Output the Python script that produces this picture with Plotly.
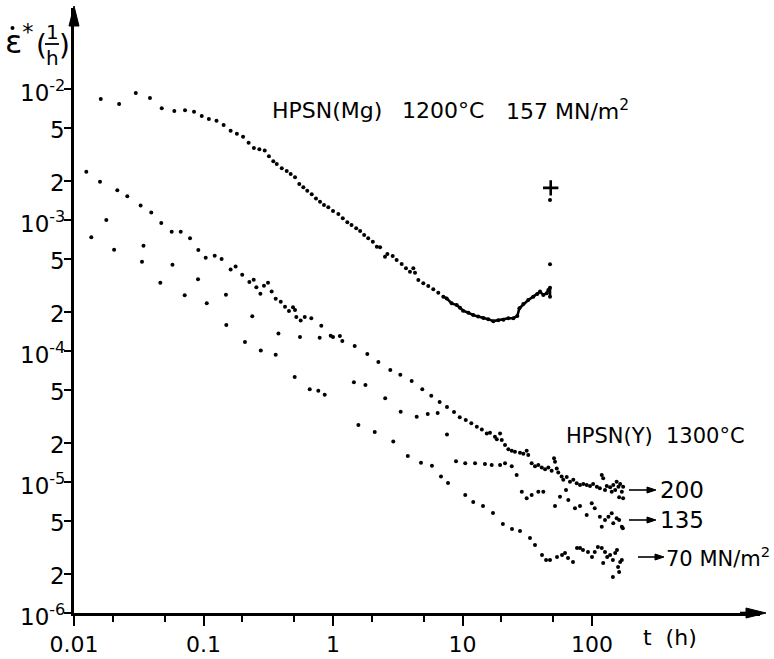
import math
import plotly.graph_objects as go

# ---------------- data ----------------
# HPSN(Mg) 1200 C, 157 MN/m2 : time t (h) and creep rate (1/h)
mg_t = [0.0161, 0.0223, 0.0300, 0.0386, 0.0476, 0.0595, 0.0720, 0.0845, 0.0969, 0.110,
        0.126, 0.143, 0.162, 0.181, 0.202, 0.223, 0.245, 0.270, 0.297, 0.320,
        0.346, 0.368, 0.402, 0.439, 0.471, 0.509, 0.549, 0.590, 0.633, 0.685,
        0.739, 0.794, 0.852, 0.920, 1.00, 1.10, 1.19, 1.29, 1.39, 1.51,
        1.62, 1.74, 1.87, 2.03, 2.18, 2.31, 2.52, 2.63, 2.89, 3.10,
        3.39, 3.66, 3.93, 4.17, 4.30, 4.56, 4.98, 5.44, 5.95, 6.50,
        7.11, 7.55, 8.25, 9.02, 9.57, 10.1, 11.1, 12.1, 13.2, 14.5,
        15.8, 17.3, 18.9, 20.7, 22.6, 24.7, 26.5, 27.5, 29.5, 32.2,
        35.2, 37.8, 39.7, 42.1, 44.7, 46.0, 47.4, 47.4]
mg_rate = [8.39e-3, 7.68e-3, 9.32e-3, 8.54e-3, 7.12e-3, 6.79e-3, 6.88e-3, 6.71e-3, 6.22e-3, 5.90e-3,
           5.73e-3, 5.31e-3, 4.80e-3, 4.56e-3, 4.32e-3, 3.89e-3, 3.54e-3, 3.47e-3, 3.40e-3, 3.06e-3,
           2.81e-3, 2.68e-3, 2.48e-3, 2.37e-3, 2.24e-3, 2.12e-3, 1.88e-3, 1.78e-3, 1.67e-3, 1.57e-3,
           1.46e-3, 1.38e-3, 1.30e-3, 1.25e-3, 1.17e-3, 1.11e-3, 1.03e-3, 9.60e-4, 9.16e-4, 8.64e-4,
           8.24e-4, 7.68e-4, 7.25e-4, 6.83e-4, 6.25e-4, 6.19e-4, 5.25e-4, 5.50e-4, 5.31e-4, 4.95e-4,
           4.61e-4, 4.28e-4, 4.03e-4, 4.28e-4, 3.96e-4, 3.48e-4, 3.29e-4, 3.13e-4, 2.96e-4, 2.79e-4,
           2.60e-4, 2.52e-4, 2.31e-4, 2.24e-4, 2.14e-4, 2.03e-4, 1.96e-4, 1.88e-4, 1.83e-4, 1.79e-4,
           1.75e-4, 1.69e-4, 1.72e-4, 1.73e-4, 1.78e-4, 1.78e-4, 1.85e-4, 2.12e-4, 2.28e-4, 2.45e-4,
           2.60e-4, 2.72e-4, 2.84e-4, 2.68e-4, 2.76e-4, 2.92e-4, 3.04e-4, 2.60e-4]
mg_tail_t = [47.4, 47.4]
mg_tail_rate = [4.59e-4, 1.42e-3]
mg_rupture_t = [48.0]
mg_rupture_rate = [1.76e-3]

# HPSN(Y) 1300 C, 200 MN/m2
y200_t = [0.01245, 0.01588, 0.0216, 0.0258, 0.0327, 0.0395, 0.0472, 0.0568, 0.0667, 0.0787,
          0.0912, 0.104, 0.122, 0.138, 0.162, 0.177, 0.199, 0.226, 0.244, 0.256,
          0.275, 0.293, 0.315, 0.336, 0.361, 0.395, 0.426, 0.457, 0.491, 0.509,
          0.521, 0.563, 0.605, 0.680, 0.812, 0.960, 1.00, 1.13, 1.18, 1.47,
          1.84, 2.24, 2.77, 3.31, 4.05, 4.89, 5.74, 6.66, 7.59, 8.60,
          9.52, 10.6, 11.7, 12.9, 14.1, 15.4, 16.3, 17.8, 18.4, 19.5,
          20.1, 21.3, 22.6, 24.0, 25.4, 27.8, 29.5, 31.3, 32.2, 34.2,
          36.3, 38.5, 40.9, 43.4, 46.0, 48.8, 50.9, 51.8, 53.4, 54.9,
          58.3, 60.0, 63.8, 67.6, 71.7, 76.2, 80.8, 85.7, 91.0, 96.5,
          102, 109, 115, 119, 122, 126, 130, 138, 142, 146,
          151, 155, 160, 165, 170, 174, 174, 162]
y200_rate = [2.34e-3, 1.96e-3, 1.69e-3, 1.52e-3, 1.29e-3, 1.14e-3, 9.49e-4, 8.14e-4, 8.14e-4, 7.25e-4,
             5.90e-4, 5.16e-4, 5.34e-4, 5.04e-4, 4.19e-4, 4.42e-4, 3.82e-4, 3.36e-4, 3.50e-4, 3.06e-4,
             2.74e-4, 3.15e-4, 3.32e-4, 2.85e-4, 2.51e-4, 2.38e-4, 2.18e-4, 2.02e-4, 2.16e-4, 2.06e-4,
             1.82e-4, 1.71e-4, 1.82e-4, 1.78e-4, 1.56e-4, 1.31e-4, 1.28e-4, 1.30e-4, 1.19e-4, 1.09e-4,
             9.48e-5, 8.24e-5, 7.16e-5, 6.59e-5, 5.90e-5, 5.10e-5, 4.56e-5, 4.08e-5, 3.73e-5, 3.42e-5,
             3.12e-5, 2.97e-5, 2.81e-5, 2.64e-5, 2.52e-5, 2.35e-5, 2.38e-5, 2.22e-5, 2.12e-5, 2.35e-5,
             2.09e-5, 1.92e-5, 1.78e-5, 1.73e-5, 1.70e-5, 1.67e-5, 1.64e-5, 1.73e-5, 1.61e-5, 1.39e-5,
             1.32e-5, 1.35e-5, 1.29e-5, 1.25e-5, 1.29e-5, 1.22e-5, 1.52e-5, 1.43e-5, 1.27e-5, 1.18e-5,
             1.10e-5, 1.04e-5, 1.09e-5, 1.005e-5, 1.04e-5, 9.77e-6, 9.48e-6, 9.65e-6, 9.48e-6, 9.32e-6,
             9.65e-6, 9.20e-6, 8.95e-6, 1.13e-5, 1.07e-5, 8.69e-6, 9.32e-6, 9.11e-6, 8.43e-6, 9.48e-6,
             8.69e-6, 1.005e-5, 9.20e-6, 9.65e-6, 8.43e-6, 9.20e-6, 7.50e-6, 7.64e-6]

# HPSN(Y) 1300 C, 135 MN/m2
y135_t = [0.01776, 0.0344, 0.0576, 0.0907, 0.149, 0.238, 0.379, 0.556, 0.789, 1.45,
          1.78, 2.53, 3.33, 4.43, 5.39, 6.43, 7.59, 8.91, 10.5, 12.5,
          14.9, 16.8, 19.5, 21.3, 24.0, 26.2, 28.7, 31.3, 34.2, 38.5,
          42.1, 51.8, 56.6, 63.0, 65.6, 73.9, 80.8, 91.0, 99.5, 105,
          115, 119, 126, 134, 142, 146, 155, 162, 170, 173]
y135_rate = [1.00e-3, 6.36e-4, 4.56e-4, 3.53e-4, 2.69e-4, 1.84e-4, 1.36e-4, 1.28e-4, 1.26e-4, 5.77e-5,
             5.50e-5, 4.35e-5, 3.44e-5, 3.15e-5, 3.30e-5, 3.36e-5, 2.30e-5, 1.44e-5, 1.39e-5, 1.39e-5,
             1.37e-5, 1.35e-5, 1.35e-5, 1.39e-5, 1.32e-5, 1.13e-5, 8.43e-6, 7.50e-6, 7.95e-6, 8.43e-6,
             8.43e-6, 6.56e-6, 7.72e-6, 8.69e-6, 7.29e-6, 6.30e-6, 6.56e-6, 5.60e-6, 6.87e-6, 6.30e-6,
             5.43e-6, 4.56e-6, 5.13e-6, 5.43e-6, 5.77e-6, 4.84e-6, 5.28e-6, 5.13e-6, 4.56e-6, 4.43e-6]

# HPSN(Y) 1300 C, 70 MN/m2
y70_t = [0.0136, 0.0204, 0.0335, 0.0464, 0.0716, 0.106, 0.150, 0.209, 0.277, 0.361,
         0.506, 0.661, 0.770, 0.863, 1.57, 2.10, 2.92, 3.78, 4.78, 5.81,
         6.82, 7.73, 10.5, 12.1, 14.4, 17.2, 20.5, 24.1, 27.8, 33.2,
         36.3, 41.1, 44.2, 47.4, 53.7, 58.7, 61.9, 65.3, 71.3, 76.6,
         80.8, 85.2, 93.1, 100, 105, 111, 119, 126, 131, 122,
         138, 145, 151, 156, 159, 165, 170, 162, 145]
y70_rate = [7.38e-4, 5.93e-4, 4.80e-4, 3.32e-4, 2.66e-4, 2.31e-4, 1.58e-4, 1.17e-4, 1.01e-4, 9.37e-5,
            6.33e-5, 5.10e-5, 4.98e-5, 4.64e-5, 2.72e-5, 2.41e-5, 2.04e-5, 1.58e-5, 1.40e-5, 1.33e-5,
            1.10e-5, 9.82e-6, 7.95e-6, 7.03e-6, 6.56e-6, 5.80e-6, 4.78e-6, 4.38e-6, 4.22e-6, 3.74e-6,
            3.30e-6, 2.77e-6, 2.54e-6, 2.54e-6, 2.68e-6, 2.77e-6, 2.87e-6, 2.63e-6, 2.45e-6, 3.13e-6,
            3.13e-6, 3.02e-6, 2.92e-6, 2.68e-6, 2.92e-6, 3.19e-6, 3.13e-6, 2.92e-6, 2.68e-6, 2.41e-6,
            2.77e-6, 2.54e-6, 2.87e-6, 3.02e-6, 2.24e-6, 2.45e-6, 2.54e-6, 2.06e-6, 1.88e-6]

# axis ticks
y_tickvals = [1e-6, 2e-6, 5e-6, 1e-5, 2e-5, 5e-5, 1e-4, 2e-4, 5e-4, 1e-3, 2e-3, 5e-3, 1e-2]
y_ticktext = ["10<sup>-6</sup>", "2", "5", "10<sup>-5</sup>", "2", "5", "10<sup>-4</sup>", "2", "5",
              "10<sup>-3</sup>", "2", "5", "10<sup>-2</sup>"]
x_tickvals = [0.01, 0.1, 1, 10, 100]
x_ticktext = ["0.01", "0.1", "1", "10", "100"]
x_minorvals = [0.02, 0.05, 0.2, 0.5, 2, 5, 20, 50]

# ---------------- layout helpers ----------------
FONT = "DejaVu Sans, Liberation Sans, Arial, sans-serif"
W, H = 774, 659
L, R, T, B = 74, 14, 8, 46
PW, PH = W - L - R, H - T - B
X_DEC, Y_DEC = 129.5, 131.0


def px_x(px):
    return (px - L) / PW


def px_y(py):
    return (H - B - py) / PH


fig = go.Figure()
dot = dict(color="black", size=4)

# dense part of the Mg curve drawn as a thick line through the read points
dense = [(t, r) for t, r in zip(mg_t, mg_rate) if t >= 7.0]
fig.add_trace(go.Scatter(x=[d[0] for d in dense], y=[d[1] for d in dense], mode="lines",
                         line=dict(color="black", width=2.6), hoverinfo="skip"))
for xs, ys in [(mg_t, mg_rate), (mg_tail_t, mg_tail_rate), (y200_t, y200_rate),
               (y135_t, y135_rate), (y70_t, y70_rate)]:
    fig.add_trace(go.Scatter(x=xs, y=ys, mode="markers", marker=dot))
fig.add_trace(go.Scatter(x=mg_rupture_t, y=mg_rupture_rate, mode="markers",
                         marker=dict(symbol="cross-thin", size=11, color="black",
                                     line=dict(color="black", width=2.6))))

ann = []
shapes = []


def text(px, py, s, size=22, anchor="center"):
    ann.append(dict(x=px_x(px), y=px_y(py), xref="paper", yref="paper", text=s, showarrow=False,
                    xanchor=anchor, yanchor="middle",
                    font=dict(family=FONT, size=size, color="black")))


def harrow(px0, px1, py, lw=1.6, head=9, half=3):
    # horizontal arrow made of a line and a filled head
    shapes.append(dict(type="line", xref="paper", yref="paper",
                       x0=px_x(px0), x1=px_x(px1 - head + 1), y0=px_y(py), y1=px_y(py),
                       line=dict(color="black", width=lw)))
    path = "M {},{} L {},{} L {},{} Z".format(px_x(px1), px_y(py), px_x(px1 - head), px_y(py - half),
                                           px_x(px1 - head), px_y(py + half))
    shapes.append(dict(type="path", xref="paper", yref="paper", path=path,
                       fillcolor="black", line=dict(color="black", width=1)))


def varrow(px, py_tip, head=18, half=5):
    path = "M {},{} L {},{} L {},{} Z".format(px_x(px), px_y(py_tip), px_x(px - half), px_y(py_tip + head),
                                           px_x(px + half), px_y(py_tip + head))
    shapes.append(dict(type="path", xref="paper", yref="paper", path=path,
                       fillcolor="black", line=dict(color="black", width=1)))


# axis arrow heads
harrow(740, 766, 613, lw=2.6, head=20, half=5)
varrow(74, 6, head=20, half=5)

# y tick labels, placed on the y axis values, right-aligned close to the ticks
for v, s in zip(y_tickvals, y_ticktext):
    ann.append(dict(x=0, xref="paper", y=math.log10(v), yref="y", text=s, showarrow=False,
                    xanchor="right", yanchor="middle", xshift=-7, yshift=-2,
                    font=dict(family=FONT, size=23, color="black")))

# y-axis title  eps-dot* (1/h)
text(20, 40, "\u03b5<sup>*</sup>", size=32)
shapes.append(dict(type="circle", xref="paper", yref="paper", x0=px_x(10.5), x1=px_x(14.5),
                   y0=px_y(30), y1=px_y(26), fillcolor="black", line=dict(width=0)))
text(41, 46, "(", size=28)
text(52, 45, "1<br>h", size=20)
text(64, 46, ")", size=28)
shapes.append(dict(type="line", xref="paper", yref="paper",
                   x0=px_x(45), x1=px_x(59), y0=px_y(44), y1=px_y(44),
                   line=dict(color="black", width=1.8)))

# annotations
text(270, 110, "HPSN(Mg)", size=22, anchor="left")
text(400, 110, "1200\u00b0C", size=22, anchor="left")
text(504, 110, "157 MN/m<sup>2</sup>", size=22, anchor="left")
text(564, 436, "HPSN(Y)", size=21, anchor="left")
text(664, 436, "1300\u00b0C", size=21, anchor="left")
harrow(629, 656, 490)
text(658, 490, "200", size=23, anchor="left")
harrow(629, 656, 520)
text(658, 520, "135", size=23, anchor="left")
harrow(638, 664, 557)
text(664, 557, "70 MN/m<sup>2</sup>", size=21, anchor="left")
text(641, 637, "t\u00a0\u00a0(h)", size=22, anchor="left")

fig.update_layout(
    width=W, height=H, margin=dict(l=L, r=R, t=T, b=B),
    paper_bgcolor="white", plot_bgcolor="white", showlegend=False,
    font=dict(family=FONT, size=22, color="black"),
    annotations=ann, shapes=shapes,
)
fig.update_xaxes(type="log", range=[-2, -2 + PW / X_DEC], showgrid=False, zeroline=False,
                 showline=True, linecolor="black", linewidth=2.6, ticks="outside",
                 ticklen=10, tickwidth=2, tickcolor="black",
                 tickmode="array", tickvals=x_tickvals, ticktext=x_ticktext,
                 tickfont=dict(family=FONT, size=22, color="black"),
                 minor=dict(tickmode="array", tickvals=x_minorvals, ticks="outside",
                            ticklen=6, tickwidth=2, tickcolor="black", showgrid=False),
                 automargin=False)
fig.update_yaxes(type="log", range=[-6, -6 + PH / Y_DEC], showgrid=False, zeroline=False,
                 showline=True, linecolor="black", linewidth=3, ticks="outside",
                 ticklen=7, tickwidth=2, tickcolor="black",
                 tickmode="array", tickvals=y_tickvals, showticklabels=False,
                 automargin=False)

fig.write_html("out.html")
